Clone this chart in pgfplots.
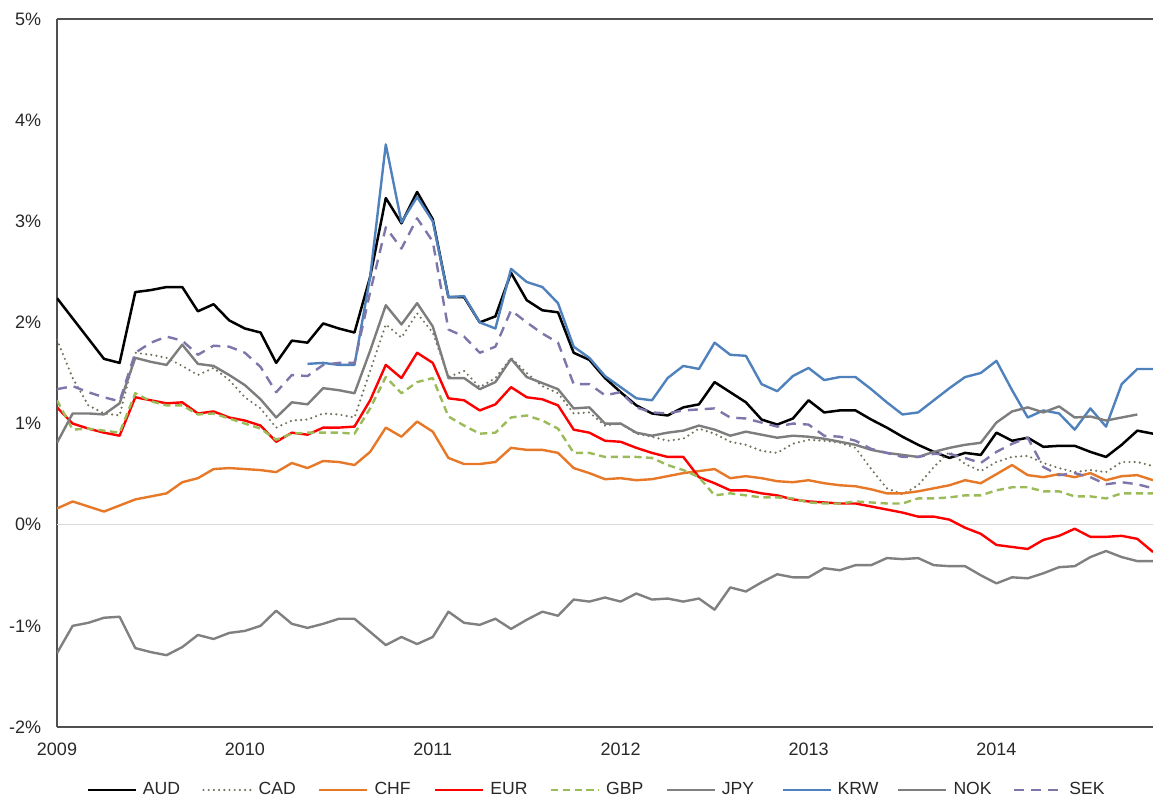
\documentclass[border=0pt]{standalone}
\usepackage{fontspec}
\setmainfont{Liberation Sans}
\usepackage{pgfplots}
\pgfplotsset{compat=1.18}
\usepackage{pgfplotstable}

\definecolor{audc}{RGB}{0,0,0}
\definecolor{cadc}{RGB}{112,116,92}
\definecolor{chfc}{RGB}{230,120,40}
\definecolor{eurc}{RGB}{255,0,0}
\definecolor{gbpc}{RGB}{155,187,89}
\definecolor{jpyc}{RGB}{128,128,128}
\definecolor{krwc}{RGB}{79,129,189}
\definecolor{nokc}{RGB}{125,125,125}
\definecolor{sekc}{RGB}{125,118,170}
\definecolor{axisc}{RGB}{80,80,80}
\definecolor{zeroc}{RGB}{217,217,217}
\definecolor{textc}{RGB}{40,40,40}

\pgfplotstableread{
i AUD CAD CHF EUR GBP JPY KRW NOK SEK
0 2.24 1.83 0.16 1.16 1.23 -1.27 nan 0.81 1.34
1 2.04 1.45 0.23 1.00 0.94 -1.00 nan 1.10 1.37
2 1.84 1.18 0.18 0.95 0.95 -0.97 nan 1.10 1.31
3 1.64 1.10 0.13 0.91 0.93 -0.92 nan 1.09 1.26
4 1.60 1.08 0.19 0.88 0.91 -0.91 nan 1.20 1.22
5 2.30 1.70 0.25 1.26 1.30 -1.22 nan 1.65 1.70
6 2.32 1.68 0.28 1.23 1.22 -1.26 nan 1.61 1.80
7 2.35 1.65 0.31 1.20 1.18 -1.29 nan 1.58 1.86
8 2.35 1.57 0.42 1.21 1.18 -1.21 nan 1.78 1.82
9 2.11 1.48 0.46 1.10 1.09 -1.09 nan 1.59 1.68
10 2.18 1.55 0.55 1.12 1.10 -1.13 nan 1.57 1.77
11 2.02 1.43 0.56 1.06 1.05 -1.07 nan 1.48 1.76
12 1.94 1.26 0.55 1.03 1.00 -1.05 nan 1.38 1.70
13 1.90 1.15 0.54 0.98 0.95 -1.00 nan 1.24 1.56
14 1.60 0.96 0.52 0.82 0.84 -0.85 nan 1.06 1.31
15 1.82 1.03 0.61 0.91 0.90 -0.98 nan 1.21 1.48
16 1.80 1.04 0.56 0.89 0.91 -1.02 1.59 1.19 1.47
17 1.99 1.10 0.63 0.96 0.91 -0.98 1.60 1.35 1.58
18 1.94 1.09 0.62 0.96 0.91 -0.93 1.58 1.33 1.60
19 1.90 1.06 0.59 0.97 0.90 -0.93 1.58 1.30 1.60
20 2.45 1.52 0.72 1.23 1.15 -1.06 2.45 1.72 2.30
21 3.23 1.98 0.96 1.58 1.46 -1.19 3.76 2.17 2.94
22 2.98 1.85 0.87 1.45 1.30 -1.11 2.99 1.98 2.73
23 3.29 2.09 1.02 1.70 1.41 -1.18 3.24 2.19 3.03
24 3.02 1.90 0.92 1.60 1.45 -1.11 3.00 1.96 2.80
25 2.25 1.46 0.66 1.25 1.07 -0.86 2.25 1.45 1.93
26 2.25 1.52 0.60 1.23 0.98 -0.97 2.26 1.45 1.86
27 2.00 1.36 0.60 1.13 0.90 -0.99 2.00 1.34 1.70
28 2.06 1.45 0.62 1.19 0.91 -0.93 1.94 1.41 1.76
29 2.49 1.65 0.76 1.36 1.06 -1.03 2.53 1.64 2.12
30 2.22 1.50 0.74 1.26 1.08 -0.94 2.40 1.46 2.00
31 2.12 1.37 0.74 1.24 1.03 -0.86 2.35 1.40 1.89
32 2.10 1.30 0.71 1.18 0.95 -0.90 2.19 1.34 1.80
33 1.70 1.10 0.56 0.94 0.71 -0.74 1.76 1.15 1.39
34 1.63 1.11 0.51 0.91 0.71 -0.76 1.65 1.16 1.39
35 1.45 0.98 0.45 0.83 0.67 -0.72 1.47 1.00 1.28
36 1.31 1.00 0.46 0.82 0.67 -0.76 1.36 1.00 1.31
37 1.18 0.90 0.44 0.76 0.67 -0.68 1.25 0.91 1.16
38 1.10 0.87 0.45 0.71 0.66 -0.74 1.23 0.88 1.11
39 1.08 0.83 0.48 0.67 0.59 -0.73 1.45 0.91 1.10
40 1.16 0.85 0.51 0.67 0.54 -0.76 1.57 0.93 1.13
41 1.19 0.95 0.53 0.47 0.47 -0.73 1.54 0.98 1.14
42 1.41 0.90 0.55 0.41 0.29 -0.84 1.80 0.94 1.15
43 1.31 0.82 0.46 0.34 0.31 -0.62 1.68 0.88 1.06
44 1.21 0.79 0.48 0.34 0.29 -0.66 1.67 0.92 1.05
45 1.04 0.73 0.46 0.31 0.27 -0.57 1.39 0.89 1.01
46 0.99 0.71 0.43 0.29 0.27 -0.49 1.32 0.86 0.97
47 1.05 0.80 0.42 0.25 0.26 -0.52 1.47 0.88 1.00
48 1.23 0.84 0.44 0.23 0.22 -0.52 1.55 0.87 0.99
49 1.11 0.83 0.41 0.22 0.21 -0.43 1.43 0.85 0.88
50 1.13 0.81 0.39 0.21 0.21 -0.45 1.46 0.82 0.87
51 1.13 0.76 0.38 0.21 0.23 -0.40 1.46 0.79 0.83
52 1.04 0.55 0.35 0.18 0.22 -0.40 1.34 0.74 0.75
53 0.96 0.36 0.31 0.15 0.21 -0.33 1.21 0.71 0.71
54 0.87 0.30 0.31 0.12 0.21 -0.34 1.09 0.69 0.67
55 0.79 0.39 0.33 0.08 0.26 -0.33 1.11 0.67 0.67
56 0.72 0.57 0.36 0.08 0.26 -0.40 1.23 0.72 0.70
57 0.66 0.72 0.39 0.05 0.27 -0.41 1.35 0.76 0.70
58 0.71 0.60 0.44 -0.03 0.29 -0.41 1.46 0.79 0.66
59 0.69 0.53 0.41 -0.09 0.29 -0.50 1.50 0.81 0.61
60 0.91 0.62 0.50 -0.20 0.34 -0.58 1.62 1.01 0.72
61 0.83 0.67 0.59 -0.22 0.37 -0.52 1.33 1.12 0.80
62 0.86 0.68 0.49 -0.24 0.37 -0.53 1.06 1.16 0.86
63 0.77 0.61 0.47 -0.15 0.33 -0.48 1.13 1.11 0.57
64 0.78 0.56 0.50 -0.11 0.33 -0.42 1.10 1.17 0.49
65 0.78 0.52 0.47 -0.04 0.28 -0.41 0.94 1.06 0.51
66 0.72 0.54 0.51 -0.12 0.28 -0.32 1.15 1.07 0.47
67 0.67 0.52 0.44 -0.12 0.26 -0.26 0.97 1.03 0.40
68 0.79 0.62 0.48 -0.11 0.31 -0.32 1.39 1.06 0.42
69 0.93 0.62 0.49 -0.14 0.31 -0.36 1.54 1.09 0.40
70 0.90 0.58 0.44 -0.27 0.31 -0.36 1.54 nan 0.36
}\datatable

\begin{document}
\begin{tikzpicture}
\useasboundingbox (-28.5pt,-37.5pt) rectangle (548pt,363.5pt);
\begin{axis}[
  at={(0pt,0pt)}, anchor=south west,
  scale only axis, width=548pt, height=354pt,
  xmin=0, xmax=70, ymin=-2, ymax=5,
  axis x line*=bottom, axis y line*=left,
  axis line style={draw=axisc, line width=0.9pt},
  major tick length=0pt,
  xtick={0,12,24,36,48,60},
  xticklabels={2009,2010,2011,2012,2013,2014},
  ytick={-2,-1,0,1,2,3,4,5},
  yticklabels={-2\%,-1\%,0\%,1\%,2\%,3\%,4\%,5\%},
  tick label style={font=\fontsize{9}{11}\selectfont, text=textc},
  xticklabel style={yshift=-4.2pt},
  yticklabel style={xshift=-4.4pt},
  legend columns=9,
  legend style={at={(0.021,-0.089)}, anchor=west, draw=none, fill=none,
    font=\fontsize{8.8}{10}\selectfont, text=textc,
    /tikz/every even column/.append style={column sep=3.7pt}},
  legend image code/.code={\draw[#1] (0pt,0pt) -- (24pt,0pt);},
  every axis plot/.append style={line join=round},
]
\addplot[zeroc, line width=0.5pt, forget plot] coordinates {(0,0) (70,0)};
\addplot[audc, line width=1.25pt] table[x=i, y=AUD] {\datatable};
\addlegendentry{\makebox[25pt][l]{\hspace{1pt}AUD}}
\addplot[cadc, line width=1.2pt, line cap=round, dash pattern=on 0pt off 2.6pt] table[x=i, y=CAD] {\datatable};
\addlegendentry{\makebox[25pt][l]{\hspace{1pt}CAD}}
\addplot[chfc, line width=1.2pt] table[x=i, y=CHF] {\datatable};
\addlegendentry{\makebox[25pt][l]{\hspace{1pt}CHF}}
\addplot[eurc, line width=1.2pt] table[x=i, y=EUR] {\datatable};
\addlegendentry{\makebox[25pt][l]{\hspace{1pt}EUR}}
\addplot[gbpc, line width=1.2pt, dash pattern=on 3.6pt off 2.3pt] table[x=i, y=GBP] {\datatable};
\addlegendentry{\makebox[25pt][l]{\hspace{1pt}GBP}}
\addplot[jpyc, line width=1.2pt] table[x=i, y=JPY] {\datatable};
\addlegendentry{\makebox[25pt][l]{\hspace{1pt}JPY}}
\addplot[krwc, line width=1.2pt] table[x=i, y=KRW] {\datatable};
\addlegendentry{\makebox[25pt][l]{\hspace{1pt}KRW}}
\addplot[nokc, line width=1.2pt] table[x=i, y=NOK] {\datatable};
\addlegendentry{\makebox[25pt][l]{\hspace{1pt}NOK}}
\addplot[sekc, line width=1.2pt, dash pattern=on 5pt off 3.5pt] table[x=i, y=SEK] {\datatable};
\addlegendentry{\makebox[25pt][l]{\hspace{1pt}SEK}}
\draw[axisc, line width=0.6pt] (rel axis cs:0,1) -- (rel axis cs:1,1);
\end{axis}
\end{tikzpicture}
\end{document}
